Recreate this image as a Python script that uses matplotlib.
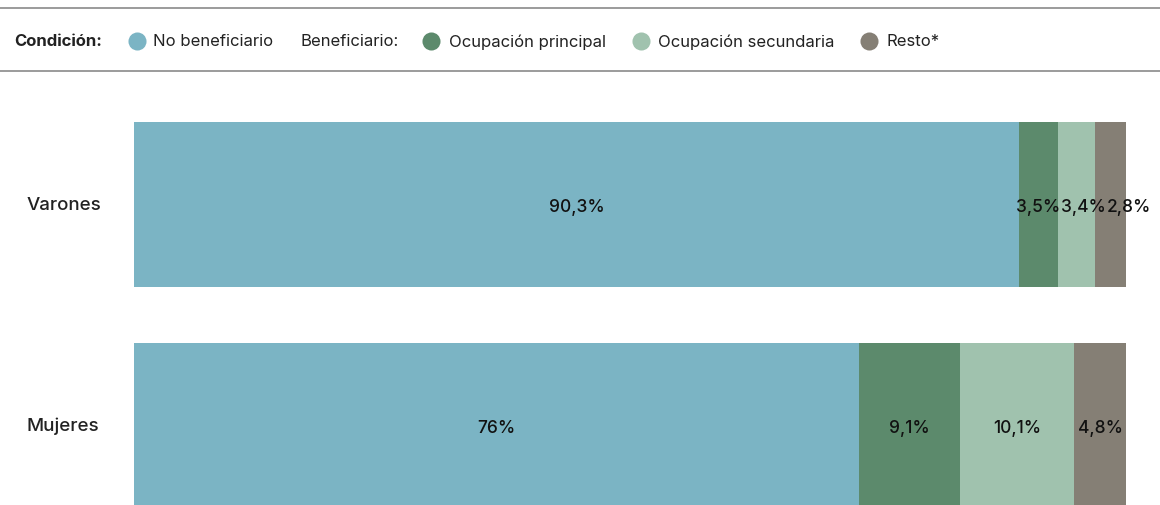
import matplotlib
matplotlib.use("Agg")
import matplotlib.pyplot as plt
from matplotlib.lines import Line2D
from matplotlib.transforms import blended_transform_factory

plt.rcParams['font.family'] = ['Inter', 'DejaVu Sans']

# data: shares as drawn in the chart, labels as printed
groups = ['Varones', 'Mujeres']
series = ['No beneficiario', 'Ocupación principal', 'Ocupación secundaria', 'Resto*']
varones = [89.2, 3.9, 3.8, 3.1]
mujeres = [73.1, 10.2, 11.5, 5.2]
varones_lbl = ['90,3%', '3,5%', '3,4%', '2,8%']
mujeres_lbl = ['76%', '9,1%', '10,1%', '4,8%']
colors = ['#7bb4c4', '#5c8a6c', '#a0c2ae', '#857f75']

W, H = 1160, 506
fig = plt.figure(figsize=(W / 100, H / 100), dpi=100)

# axes for the bars (pixel layout converted to figure fractions)
ax = fig.add_axes([134 / W, 0, 992 / W, (506 - 100) / H])
ax.set_xlim(0, 100)
ax.set_ylim(1.36, -0.477)
ax.axis('off')

values = [varones, mujeres]
labels = [varones_lbl, mujeres_lbl]
rows = []
for i, g in enumerate(groups):
    left = 0
    row = []
    for j, v in enumerate(values[i]):
        ax.barh(i, v, left=left, height=0.747, color=colors[j], linewidth=0)
        t = ax.text(left + v / 2, i + 0.01, labels[i][j], ha='center', va='center',
                    fontsize=12.5, fontweight='medium', color='#111111')
        row.append(t)
        left += v
    rows.append(row)

# push small labels apart so they don't run into each other
fig.canvas.draw()
r = fig.canvas.get_renderer()
inv = ax.transData.inverted()
for row in rows:
    prev_right = None
    for t in row:
        bb = t.get_window_extent(r)
        if prev_right is not None and bb.x0 < prev_right + 1:
            shift = prev_right + 1 - bb.x0
            x, y = t.get_position()
            px = ax.transData.transform((x, y))
            t.set_position((inv.transform((px[0] + shift, px[1]))[0], y))
            bb = t.get_window_extent(r)
        prev_right = bb.x1

trans = blended_transform_factory(fig.transFigure, ax.transData)
for i, g in enumerate(groups):
    ax.text(27 / W, i, g, transform=trans, ha='left', va='center',
            fontsize=13.5, fontweight='medium', color='#222222')

# header legend
y_leg = 1 - 42 / H
for yl in (9, 72):
    fig.add_artist(Line2D([0, 1], [1 - yl / H] * 2, transform=fig.transFigure,
                          color='#8a8a8a', linewidth=1.2))

fig.text(14 / W, y_leg, 'Condición:', fontsize=12, fontweight='bold',
         va='center', ha='left', color='#222222')
fig.text(301 / W, y_leg, 'Beneficiario:', fontsize=12, va='center',
         ha='left', color='#222222')
dots = [137, 431, 641, 869]
texts_x = [153, 449, 658, 886]
for j, s in enumerate(series):
    fig.add_artist(Line2D([dots[j] / W], [y_leg], transform=fig.transFigure,
                          marker='o', markersize=13, color=colors[j],
                          markeredgewidth=0, linestyle='none'))
    fig.text(texts_x[j] / W, y_leg, s, fontsize=12, va='center',
             ha='left', color='#222222')

fig.savefig('out.png', dpi=100)
